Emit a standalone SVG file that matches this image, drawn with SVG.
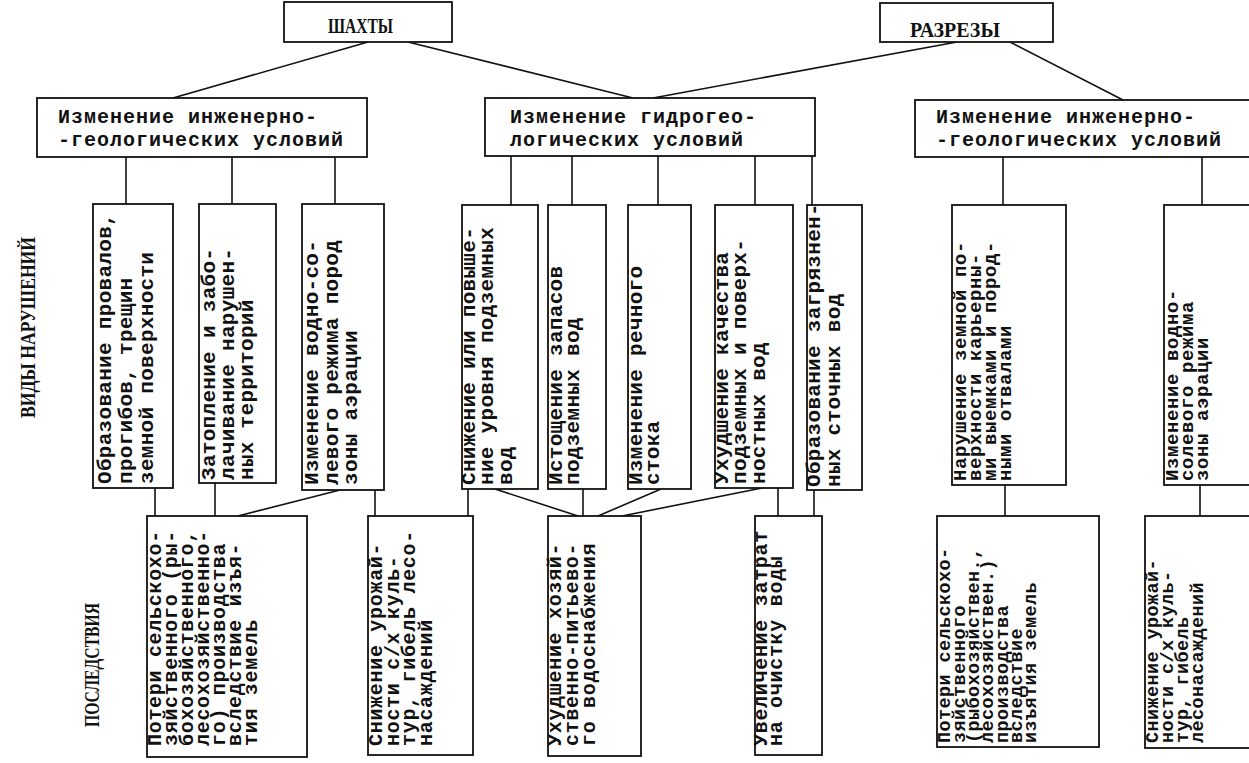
<svg xmlns="http://www.w3.org/2000/svg" width="1249" height="763" viewBox="0 0 1249 763">
<style>
.box{fill:#fff;stroke:#111;stroke-width:1.8}
.cn{stroke:#111;stroke-width:1.6;fill:none}
.hd{font-family:"Liberation Serif",serif;font-weight:bold;font-size:22px;fill:#111}
.sd{font-family:"Liberation Serif",serif;font-weight:bold;font-size:22px;fill:#111}
.th{font-family:"Liberation Mono",monospace;font-weight:bold;font-size:20px;letter-spacing:1px;fill:#111}
.tm{font-family:"Liberation Mono",monospace;font-weight:bold;font-size:21px;letter-spacing:0.3px;fill:#111}
.ts{font-family:"Liberation Mono",monospace;font-weight:bold;font-size:19px;letter-spacing:0.6px;fill:#111}
.tb{font-family:"Liberation Mono",monospace;font-weight:bold;font-size:20px;letter-spacing:0.7px;fill:#111}
.tc{font-family:"Liberation Mono",monospace;font-weight:bold;font-size:18.5px;letter-spacing:0.4px;fill:#111}
</style>
<rect x="0" y="0" width="1249" height="763" fill="#fff"/>

<g id="connectors">
<line class="cn" x1="368" y1="42" x2="173" y2="98"/>
<line class="cn" x1="408" y1="42" x2="633" y2="98"/>
<line class="cn" x1="957" y1="42" x2="653" y2="98"/>
<line class="cn" x1="1010" y1="42" x2="1123" y2="100"/>
<line class="cn" x1="126" y1="157" x2="126" y2="204"/>
<line class="cn" x1="232" y1="157" x2="232" y2="204"/>
<line class="cn" x1="335" y1="157" x2="335" y2="204"/>
<line class="cn" x1="511" y1="156" x2="511" y2="205"/>
<line class="cn" x1="572" y1="156" x2="572" y2="205"/>
<line class="cn" x1="658" y1="156" x2="658" y2="205"/>
<line class="cn" x1="755" y1="156" x2="755" y2="205"/>
<line class="cn" x1="812" y1="156" x2="812" y2="205"/>
<line class="cn" x1="1003" y1="157" x2="1003" y2="205"/>
<line class="cn" x1="1202" y1="157" x2="1202" y2="205"/>
<line class="cn" x1="155" y1="488" x2="155" y2="516"/>
<line class="cn" x1="215" y1="483" x2="215" y2="516"/>
<line class="cn" x1="340" y1="490" x2="238" y2="516"/>
<line class="cn" x1="375" y1="490" x2="375" y2="516"/>
<line class="cn" x1="468" y1="489" x2="468" y2="516"/>
<line class="cn" x1="495" y1="489" x2="578" y2="516"/>
<line class="cn" x1="583" y1="489" x2="583" y2="516"/>
<line class="cn" x1="661" y1="489" x2="598" y2="516"/>
<line class="cn" x1="762" y1="488" x2="622" y2="516"/>
<line class="cn" x1="778" y1="488" x2="778" y2="516"/>
<line class="cn" x1="814" y1="490" x2="814" y2="516"/>
<line class="cn" x1="1005" y1="485" x2="1005" y2="516"/>
<line class="cn" x1="1200" y1="485" x2="1200" y2="516"/>
</g>

<g id="label-vidy">
<text class="sd" transform="translate(35,418) rotate(-90)" textLength="181" lengthAdjust="spacingAndGlyphs">ВИДЫ НАРУШЕНИЙ</text>
</g>
<g id="label-posledstviya">
<text class="sd" transform="translate(99,727) rotate(-90)" textLength="124" lengthAdjust="spacingAndGlyphs">ПОСЛЕДСТВИЯ</text>
</g>

<g id="shakhty">
<rect class="box" x="284" y="2" width="168" height="40"/>
<text class="hd" x="328" y="33" textLength="65" lengthAdjust="spacingAndGlyphs">ШАХТЫ</text>
</g>
<g id="razrezy">
<rect class="box" x="880" y="3" width="173" height="39"/>
<text class="hd" x="910" y="37" textLength="90" lengthAdjust="spacingAndGlyphs">РАЗРЕЗЫ</text>
</g>

<g id="ig1">
<rect class="box" x="37" y="98" width="330" height="59"/>
<text class="th" x="58" y="123">Изменение инженерно-</text>
<text class="th" x="58" y="146">-геологических условий</text>
</g>
<g id="hg">
<rect class="box" x="485" y="98" width="330" height="58"/>
<text class="th" x="510" y="123">Изменение гидрогео-</text>
<text class="th" x="510" y="146">логических условий</text>
</g>
<g id="ig2">
<rect class="box" x="915" y="100" width="345" height="57"/>
<text class="th" x="936" y="123">Изменение инженерно-</text>
<text class="th" x="936" y="146">-геологических условий</text>
</g>

<g id="A">
<rect class="box" x="93" y="204" width="80" height="284"/>
<text class="tm" transform="translate(111,484) rotate(-90)">Образование провалов,</text>
<text class="tm" transform="translate(132,484) rotate(-90)">прогибов, трещин</text>
<text class="tm" transform="translate(153,484) rotate(-90)">земной поверхности</text>
</g>
<g id="B">
<rect class="box" x="199" y="204" width="77" height="279"/>
<text class="tm" transform="translate(215,480) rotate(-90)">Затопление и забо-</text>
<text class="tm" transform="translate(234,480) rotate(-90)">лачивание нарушен-</text>
<text class="tm" transform="translate(253,480) rotate(-90)">ных территорий</text>
</g>
<g id="C">
<rect class="box" x="302" y="204" width="82" height="286"/>
<text class="tm" transform="translate(318,485) rotate(-90)">Изменение водно-со-</text>
<text class="tm" transform="translate(338,485) rotate(-90)">левого режима пород</text>
<text class="tm" transform="translate(357,485) rotate(-90)">зоны аэрации</text>
</g>
<g id="D">
<rect class="box" x="462" y="205" width="76" height="284"/>
<text class="tm" transform="translate(475,485) rotate(-90)">Снижение или повыше-</text>
<text class="tm" transform="translate(493,485) rotate(-90)">ние уровня подземных</text>
<text class="tm" transform="translate(512,485) rotate(-90)">вод</text>
</g>
<g id="E">
<rect class="box" x="548" y="205" width="58" height="284"/>
<text class="tm" transform="translate(562,485) rotate(-90)">Истощение запасов</text>
<text class="tm" transform="translate(579,485) rotate(-90)">подземных вод</text>
</g>
<g id="F">
<rect class="box" x="628" y="205" width="63" height="284"/>
<text class="tm" transform="translate(642,485) rotate(-90)">Изменение речного</text>
<text class="tm" transform="translate(659,485) rotate(-90)">стока</text>
</g>
<g id="G">
<rect class="box" x="715" y="205" width="78" height="283"/>
<text class="tm" transform="translate(728,484) rotate(-90)">Ухудшение качества</text>
<text class="tm" transform="translate(746,484) rotate(-90)">подземных и поверх-</text>
<text class="tm" transform="translate(765,484) rotate(-90)">ностных вод</text>
</g>
<g id="H">
<rect class="box" x="807" y="205" width="55" height="285"/>
<text class="tm" transform="translate(820,487) rotate(-90)">Образование загрязнен-</text>
<text class="tm" transform="translate(840,487) rotate(-90)">ных сточных вод</text>
</g>
<g id="I">
<rect class="box" x="952" y="205" width="114" height="280"/>
<text class="ts" transform="translate(966,481) rotate(-90)">Нарушение земной по-</text>
<text class="ts" transform="translate(981,481) rotate(-90)">верхности карьерны-</text>
<text class="ts" transform="translate(996,481) rotate(-90)">ми выемками и пород-</text>
<text class="ts" transform="translate(1011,481) rotate(-90)">ными отвалами</text>
</g>
<g id="J">
<rect class="box" x="1164" y="205" width="100" height="280"/>
<text class="ts" transform="translate(1178,481) rotate(-90)">Изменение водно-</text>
<text class="ts" transform="translate(1193,481) rotate(-90)">солевого режима</text>
<text class="ts" transform="translate(1208,481) rotate(-90)">зоны аэрации</text>
</g>

<g id="P1">
<rect class="box" x="147" y="516" width="160" height="241"/>
<text class="tb" transform="translate(161,746) rotate(-90)">Потери сельскохо-</text>
<text class="tb" transform="translate(177,746) rotate(-90)">зяйственного (ры-</text>
<text class="tb" transform="translate(193,746) rotate(-90)">бохозяйственного,</text>
<text class="tb" transform="translate(209,746) rotate(-90)">лесохозяйственно-</text>
<text class="tb" transform="translate(225,746) rotate(-90)">го) производства</text>
<text class="tb" transform="translate(241,746) rotate(-90)">вследствие изъя-</text>
<text class="tb" transform="translate(257,746) rotate(-90)">тия земель</text>
</g>
<g id="P2">
<rect class="box" x="368" y="516" width="105" height="239"/>
<text class="tb" transform="translate(382,746) rotate(-90)">Снижение урожай-</text>
<text class="tb" transform="translate(399,746) rotate(-90)">ности с/х куль-</text>
<text class="tb" transform="translate(415,746) rotate(-90)">тур, гибель лесо-</text>
<text class="tb" transform="translate(432,746) rotate(-90)">насаждений</text>
</g>
<g id="P3">
<rect class="box" x="548" y="516" width="93" height="240"/>
<text class="tb" transform="translate(561,746) rotate(-90)">Ухудшение хозяй-</text>
<text class="tb" transform="translate(578,746) rotate(-90)">ственно-питьево-</text>
<text class="tb" transform="translate(595,746) rotate(-90)">го водоснабжения</text>
</g>
<g id="P4">
<rect class="box" x="755" y="516" width="67" height="239"/>
<text class="tb" transform="translate(767,746) rotate(-90)">Увеличение затрат</text>
<text class="tb" transform="translate(782,746) rotate(-90)">на очистку воды</text>
</g>
<g id="P5">
<rect class="box" x="937" y="516" width="162" height="231"/>
<text class="tc" transform="translate(950,743) rotate(-90)">Потери сельскохо-</text>
<text class="tc" transform="translate(965,743) rotate(-90)">зяйственного</text>
<text class="tc" transform="translate(979,743) rotate(-90)">(рыбохозяйствен.,</text>
<text class="tc" transform="translate(993,743) rotate(-90)">лесохозяйствен.)</text>
<text class="tc" transform="translate(1008,743) rotate(-90)">производства</text>
<text class="tc" transform="translate(1022,743) rotate(-90)">вследствие</text>
<text class="tc" transform="translate(1036,743) rotate(-90)">изъятия земель</text>
</g>
<g id="P6">
<rect class="box" x="1145" y="516" width="120" height="232"/>
<text class="tc" transform="translate(1158,743) rotate(-90)">Снижение урожай-</text>
<text class="tc" transform="translate(1173,743) rotate(-90)">ности с/х куль-</text>
<text class="tc" transform="translate(1188,743) rotate(-90)">тур, гибель</text>
<text class="tc" transform="translate(1203,743) rotate(-90)">лесонасаждений</text>
</g>
</svg>
